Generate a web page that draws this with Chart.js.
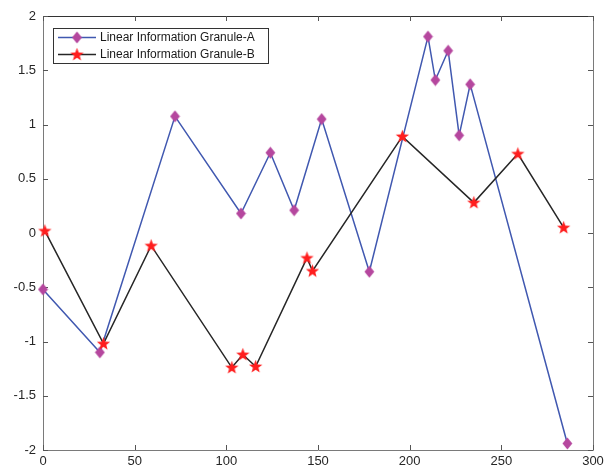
<!DOCTYPE html>
<html>
<head>
<meta charset="utf-8">
<script src="https://cdn.jsdelivr.net/npm/chart.js@4/dist/chart.umd.min.js"></script>
<style>
  html, body { margin: 0; padding: 0; background: #fff; }
  #wrap { width: 605px; height: 472px; }
</style>
</head>
<body>
<div id="wrap"><canvas id="c" width="605" height="472"></canvas></div>
<script>
// ---- data ----
const seriesNames = ['Linear Information Granule-A', 'Linear Information Granule-B'];
const xA = [0, 31, 72, 108, 124, 137, 152, 178, 210, 214, 221, 227, 233, 286];
const yA = [-0.52, -1.10, 1.075, 0.18, 0.74, 0.21, 1.05, -0.357, 1.81, 1.41, 1.68, 0.90, 1.37, -1.94];
const xB = [1, 33, 59, 103, 109, 116, 144, 147, 196, 235, 259, 284];
const yB = [0.02, -1.02, -0.117, -1.24, -1.12, -1.23, -0.23, -0.35, 0.89, 0.28, 0.73, 0.05];
const xTicks = [0, 50, 100, 150, 200, 250, 300];
const yTicks = [-2, -1.5, -1, -0.5, 0, 0.5, 1, 1.5, 2];

const FONT = '"Liberation Sans", Arial, Helvetica, sans-serif';

// ---- marker images ----
function diamondImg() {
  const c = document.createElement('canvas');
  c.width = 11; c.height = 13;
  const g = c.getContext('2d');
  g.fillStyle = '#B5479E';
  g.beginPath();
  g.moveTo(5.5, 0.6); g.lineTo(10.4, 6.5); g.lineTo(5.5, 12.4); g.lineTo(0.6, 6.5);
  g.closePath(); g.fill();
  return c;
}
function starImg() {
  const c = document.createElement('canvas');
  c.width = 15; c.height = 15;
  const g = c.getContext('2d');
  g.fillStyle = '#FF1E1E';
  const cx = 7.5, cy = 7.8, R = 7, r = 2.9;
  g.beginPath();
  for (let i = 0; i < 10; i++) {
    const a = -Math.PI / 2 + i * Math.PI / 5;
    const rad = i % 2 === 0 ? R : r;
    const px = cx + rad * Math.cos(a), py = cy + rad * Math.sin(a);
    if (i === 0) g.moveTo(px, py); else g.lineTo(px, py);
  }
  g.closePath(); g.fill();
  return c;
}
const dImg = diamondImg();
const sImg = starImg();

const colA = '#4058B0';
const colB = '#262626';

// ---- plugin: MATLAB-style box, inward ticks, legend ----
const boxPlugin = {
  id: 'boxPlugin',
  beforeDatasetsDraw(chart) {
    const { ctx, chartArea: { left, right, top, bottom }, scales: { x, y } } = chart;
    ctx.save();
    ctx.lineWidth = 1;
    ctx.strokeStyle = '#7a7a7a';
    ctx.beginPath();
    ctx.moveTo(left + 0.5, top); ctx.lineTo(left + 0.5, bottom + 0.5); ctx.lineTo(right + 0.5, bottom + 0.5); ctx.lineTo(right + 0.5, top);
    ctx.stroke();
    ctx.strokeStyle = '#333';
    ctx.beginPath();
    ctx.moveTo(left, top + 0.5); ctx.lineTo(right + 1, top + 0.5);
    ctx.stroke();
    const tl = 5;
    ctx.strokeStyle = '#555';
    ctx.beginPath();
    xTicks.forEach(v => {
      const px = Math.round(x.getPixelForValue(v)) + 0.5;
      ctx.moveTo(px, bottom); ctx.lineTo(px, bottom - tl);
      ctx.moveTo(px, top); ctx.lineTo(px, top + tl);
    });
    yTicks.forEach(v => {
      const py = Math.round(y.getPixelForValue(v)) + 0.5;
      ctx.moveTo(left, py); ctx.lineTo(left + tl, py);
      ctx.moveTo(right, py); ctx.lineTo(right - tl, py);
    });
    ctx.stroke();
    ctx.restore();
  },
  afterDraw(chart) {
    const { ctx } = chart;
    ctx.save();
    const bx = 53.5, by = 28.5, bw = 215, bh = 35;
    ctx.fillStyle = '#fff';
    ctx.fillRect(bx, by, bw, bh);
    ctx.strokeStyle = '#333';
    ctx.lineWidth = 1;
    ctx.strokeRect(bx, by, bw, bh);
    const rows = [
      { y: 37.5, col: colA, img: dImg },
      { y: 54.5, col: colB, img: sImg }
    ];
    ctx.font = '12px ' + FONT;
    ctx.textBaseline = 'middle';
    rows.forEach((r, i) => {
      ctx.strokeStyle = r.col;
      ctx.lineWidth = 1.5;
      ctx.beginPath();
      ctx.moveTo(58, r.y); ctx.lineTo(96, r.y);
      ctx.stroke();
      ctx.drawImage(r.img, 77 - r.img.width / 2, r.y - r.img.height / 2);
      ctx.fillStyle = '#1a1a1a';
      ctx.fillText(seriesNames[i], 100, r.y + 0.5);
    });
    ctx.restore();
  }
};

const dataA = xA.map((v, i) => ({ x: v, y: yA[i] }));
const dataB = xB.map((v, i) => ({ x: v, y: yB[i] }));

new Chart(document.getElementById('c'), {
  type: 'line',
  data: {
    datasets: [
      {
        label: seriesNames[0], data: dataA, borderColor: colA, borderWidth: 1.5,
        pointStyle: dImg, pointRadius: 5, pointHoverRadius: 5, tension: 0, clip: false, order: 2,
        backgroundColor: '#B5479E'
      },
      {
        label: seriesNames[1], data: dataB, borderColor: colB, borderWidth: 1.5,
        pointStyle: sImg, pointRadius: 6, pointHoverRadius: 6, tension: 0, clip: false, order: 1,
        backgroundColor: '#FF1E1E'
      }
    ]
  },
  options: {
    responsive: false,
    animation: false,
    events: [],
    layout: { padding: { top: 16, right: 12, left: 0, bottom: 0 } },
    plugins: { legend: { display: false }, tooltip: { enabled: false } },
    scales: {
      x: {
        type: 'linear', min: 0, max: 300,
        afterBuildTicks: s => { s.ticks = xTicks.map(v => ({ value: v })); },
        afterFit: s => { s.height = 22; s.paddingLeft = 0; s.paddingRight = 0; },
        grid: { display: false, drawTicks: false },
        border: { display: false },
        ticks: { color: '#262626', font: { family: FONT, size: 13 }, padding: 4, maxRotation: 0, callback: v => String(v) }
      },
      y: {
        type: 'linear', min: -2, max: 2,
        afterBuildTicks: s => { s.ticks = yTicks.map(v => ({ value: v })); },
        afterFit: s => { s.width = 43; s.paddingTop = 0; s.paddingBottom = 0; },
        grid: { display: false, drawTicks: false },
        border: { display: false },
        ticks: { color: '#262626', font: { family: FONT, size: 13 }, padding: 7, callback: v => String(v) }
      }
    }
  },
  plugins: [boxPlugin]
});
</script>
</body>
</html>
